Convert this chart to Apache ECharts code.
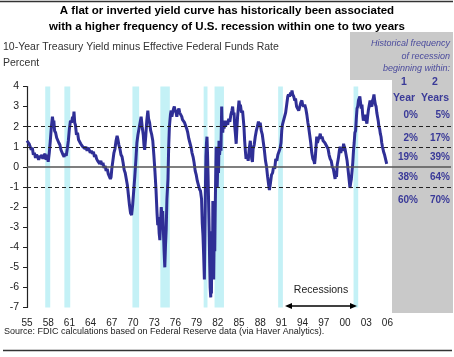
<!DOCTYPE html>
<html><head><meta charset="utf-8">
<script src="https://cdn.jsdelivr.net/npm/echarts@6/dist/echarts.min.js"></script>
<style>html,body{margin:0;padding:0;background:#fff}#c{width:454px;height:357px}</style>
</head><body><div id="c"></div>
<script>
// ---- data: [year, 10y Treasury minus effective fed funds, %] ----
const spreadSeries = [
[1955.0,1.3],[1955.15,1.35],[1955.3,1.15],[1955.45,1.2],[1955.6,0.85],[1955.75,0.95],[1955.9,0.6],[1956.05,0.7],[1956.2,0.45],[1956.35,0.6],[1956.5,0.5],[1956.65,0.35],[1956.8,0.55],[1956.95,0.45],[1957.1,0.6],[1957.25,0.4],[1957.4,0.55],[1957.55,0.65],[1957.7,0.35],[1957.85,0.6],[1958.0,0.25],[1958.15,0.7],[1958.3,1.3],[1958.45,2.0],[1958.6,2.5],[1958.7,2.2],[1958.8,2.3],[1958.9,1.8],
[1959.05,1.7],[1959.2,1.45],[1959.35,1.5],[1959.5,1.2],[1959.65,1.1],[1959.8,0.85],[1959.95,0.9],[1960.1,0.6],[1960.25,0.5],[1960.4,0.65],[1960.55,0.55],[1960.7,0.9],[1960.85,1.3],[1961.0,1.9],[1961.15,2.3],[1961.3,2.2],[1961.45,2.5],[1961.55,2.3],[1961.65,2.75],[1961.75,2.2],[1961.85,2.1],
[1962.0,1.6],[1962.15,1.7],[1962.3,1.35],[1962.45,1.4],[1962.6,1.15],[1962.75,1.2],[1962.9,1.0],[1963.05,1.05],[1963.2,0.9],[1963.35,1.0],[1963.5,0.8],[1963.65,0.95],[1963.8,0.85],[1963.95,0.7],[1964.1,0.8],[1964.25,0.65],[1964.4,0.75],[1964.55,0.5],[1964.7,0.6],[1964.85,0.4],
[1965.0,0.3],[1965.15,0.35],[1965.3,0.15],[1965.45,0.3],[1965.6,0.1],[1965.75,0.2],[1965.9,-0.05],[1966.05,0.05],[1966.2,-0.2],[1966.35,-0.1],[1966.5,-0.35],[1966.65,-0.4],[1966.8,-0.6],[1966.9,-0.5],[1967.0,-0.1],[1967.15,0.3],[1967.3,0.7],[1967.45,0.9],[1967.6,1.3],[1967.75,1.55],[1967.85,1.4],
[1968.0,1.1],[1968.15,0.9],[1968.3,0.6],[1968.45,0.5],[1968.6,0.2],[1968.75,-0.15],[1968.9,-0.3],[1969.05,-0.6],[1969.2,-0.9],[1969.35,-1.4],[1969.5,-1.9],[1969.65,-2.3],[1969.8,-2.4],[1969.95,-1.9],[1970.1,-1.2],[1970.25,-0.5],[1970.4,0.3],[1970.55,1.2],[1970.7,1.6],[1970.85,1.9],
[1971.0,2.2],[1971.15,2.5],[1971.3,2.0],[1971.45,1.6],[1971.55,1.1],[1971.65,0.85],[1971.8,1.5],[1971.95,2.3],[1972.1,2.8],[1972.2,2.4],[1972.35,2.2],[1972.5,1.8],[1972.65,1.6],[1972.8,1.3],[1972.95,0.6],
[1973.1,-0.2],[1973.25,-1.1],[1973.4,-2.3],[1973.5,-2.9],[1973.6,-2.5],[1973.7,-3.3],[1973.8,-3.65],[1973.9,-2.8],[1974.0,-2.0],[1974.1,-2.5],[1974.2,-2.2],[1974.3,-3.2],[1974.4,-4.2],[1974.5,-5.0],[1974.6,-3.9],[1974.7,-3.1],[1974.8,-1.6],[1974.95,-0.6],
[1975.05,1.0],[1975.15,2.0],[1975.3,2.6],[1975.4,2.8],[1975.5,2.5],[1975.6,2.7],[1975.75,2.9],[1975.85,3.0],[1975.95,2.8],[1976.1,2.7],[1976.2,2.5],[1976.35,2.8],[1976.5,2.9],[1976.6,2.7],[1976.75,2.6],[1976.9,2.5],
[1977.0,2.35],[1977.15,2.4],[1977.3,2.2],[1977.45,2.25],[1977.6,1.9],[1977.75,1.7],[1977.9,1.4],[1978.05,1.2],[1978.2,1.0],[1978.35,0.7],[1978.5,0.5],[1978.65,0.2],[1978.8,-0.2],[1978.95,-0.4],
[1979.1,-0.7],[1979.25,-0.9],[1979.4,-1.1],[1979.55,-1.2],[1979.7,-1.6],[1979.8,-2.8],[1979.9,-3.4],[1980.0,-4.4],[1980.1,-5.6],[1980.17,-3.5],[1980.25,-1.0],[1980.32,0.5],[1980.4,1.2],[1980.47,1.5],[1980.55,0.6],[1980.62,-0.4],[1980.7,-1.8],[1980.77,-3.0],[1980.85,-4.8],[1980.92,-6.0],
[1981.0,-6.5],[1981.05,-4.5],[1981.1,-6.3],[1981.17,-3.2],[1981.25,-5.5],[1981.3,-1.7],[1981.37,-4.0],[1981.42,-5.6],[1981.5,-3.0],[1981.57,-4.2],[1981.63,-2.3],[1981.7,-0.5],[1981.77,1.0],[1981.85,-0.4],[1981.92,-1.0],
[1982.0,0.2],[1982.1,-0.3],[1982.17,1.3],[1982.25,0.6],[1982.35,1.1],[1982.45,0.8],[1982.55,3.0],[1982.62,2.0],[1982.7,1.7],[1982.8,2.2],[1982.9,1.9],[1983.0,2.3],[1983.1,2.0],[1983.25,2.3],[1983.4,2.1],[1983.55,2.4],[1983.7,2.25],[1983.85,2.6],
[1984.0,2.8],[1984.1,3.0],[1984.2,2.6],[1984.3,2.7],[1984.4,2.0],[1984.5,1.6],[1984.6,1.15],[1984.7,1.9],[1984.8,2.5],[1984.9,2.9],[1985.0,3.3],[1985.1,3.0],[1985.2,3.1],[1985.35,2.7],[1985.5,2.8],[1985.6,2.4],[1985.7,2.0],[1985.8,1.3],[1985.9,0.8],
[1986.0,0.4],[1986.15,0.6],[1986.3,0.3],[1986.45,0.9],[1986.6,1.3],[1986.7,0.8],[1986.8,0.4],[1986.9,0.25],[1987.0,0.9],[1987.15,1.1],[1987.3,1.5],[1987.45,1.8],[1987.6,2.0],[1987.75,2.25],[1987.9,2.1],
[1988.0,2.2],[1988.15,1.8],[1988.3,1.6],[1988.45,1.2],[1988.6,0.8],[1988.75,0.3],[1988.9,0.0],[1989.05,-0.5],[1989.2,-0.9],[1989.3,-1.15],[1989.45,-0.8],[1989.6,-0.4],[1989.75,-0.3],[1989.9,0.0],
[1990.05,-0.1],[1990.2,0.4],[1990.35,0.3],[1990.5,0.6],[1990.65,0.55],[1990.8,0.9],[1990.95,1.2],[1991.05,1.8],[1991.15,2.1],[1991.3,2.3],[1991.45,2.5],[1991.6,2.7],[1991.75,3.1],[1991.9,3.5],
[1992.0,3.6],[1992.15,3.5],[1992.3,3.7],[1992.4,3.55],[1992.5,3.8],[1992.6,3.6],[1992.75,3.5],[1992.9,3.3],[1993.0,3.4],[1993.15,3.0],[1993.3,3.05],[1993.45,2.8],[1993.6,3.0],[1993.75,3.2],[1993.9,3.3],
[1994.0,3.1],[1994.15,3.0],[1994.3,3.1],[1994.45,2.9],[1994.6,2.6],[1994.75,2.2],[1994.85,2.0],[1995.0,1.6],[1995.15,1.2],[1995.3,0.7],[1995.45,0.4],[1995.6,0.3],[1995.7,0.15],[1995.8,0.5],[1995.9,1.0],
[1996.0,1.5],[1996.1,1.2],[1996.25,1.4],[1996.4,1.5],[1996.5,1.65],[1996.6,1.4],[1996.75,1.5],[1996.9,1.3],[1997.0,1.35],[1997.15,1.2],[1997.3,1.25],[1997.45,1.0],[1997.6,0.9],[1997.75,0.6],[1997.9,0.4],
[1998.05,0.3],[1998.2,0.0],[1998.35,-0.1],[1998.5,-0.4],[1998.6,-0.6],[1998.7,-0.3],[1998.8,-0.5],[1998.9,0.1],[1999.05,0.4],[1999.2,0.8],[1999.3,1.0],[1999.4,0.7],[1999.55,0.9],[1999.7,0.8],[1999.8,1.15],[1999.9,1.0],
[2000.0,0.9],[2000.15,0.6],[2000.3,0.3],[2000.45,-0.2],[2000.6,-0.7],[2000.7,-1.05],[2000.8,-0.8],[2000.9,-0.6],[2001.0,-0.2],[2001.1,0.2],[2001.2,0.8],[2001.3,1.2],[2001.4,1.7],[2001.5,1.8],[2001.6,2.4],[2001.7,2.9],[2001.8,3.0],[2001.9,3.3],
[2002.0,3.4],[2002.1,3.5],[2002.2,3.2],[2002.3,2.9],[2002.4,3.1],[2002.5,2.6],[2002.6,2.3],[2002.7,2.5],[2002.8,2.3],[2002.9,2.6],[2003.0,2.3],[2003.1,2.15],[2003.2,2.5],[2003.3,2.8],[2003.4,3.0],[2003.55,3.3],[2003.65,3.1],[2003.8,3.0],[2003.9,3.3],
[2004.0,3.4],[2004.1,3.6],[2004.2,3.3],[2004.3,3.1],[2004.4,3.0],[2004.5,2.7],[2004.6,2.5],[2004.7,2.3],[2004.8,2.0],[2004.9,1.9],[2005.0,1.65],[2005.1,1.5],[2005.2,1.2],[2005.3,1.0],[2005.4,0.85],[2005.5,0.7],[2005.6,0.6],[2005.7,0.45],[2005.8,0.3],[2005.9,0.15]
];
const recessionStart = [1957.58,1960.29,1969.92,1973.87,1980.0,1981.54,1990.54,2001.21];
const recessionEnd   = [1958.29,1961.12,1970.87,1975.21,1980.54,1982.87,1991.21,2001.87];
const dashedLevels = [2, 1, -1];
const zeroLevel = 0;
const tableHeader = ['Historical frequency','of recession','beginning within:'];
const colHeads1 = ['1','2'];
const colHeads2 = ['Year','Years'];
const oneYear = ['0%','2%','19%','38%','60%'];
const twoYears = ['5%','17%','39%','64%','70%'];

// ---- chart ----
const FONT = "'Liberation Sans', Arial, sans-serif";
const chart = echarts.init(document.getElementById('c'), null, {renderer:'canvas'});
const blue = '#3a3a98';
const g = [];
g.push({type:'line', shape:{x1:0,y1:1.5,x2:453,y2:1.5}, style:{stroke:'#333',lineWidth:1.5}, z:5});
g.push({type:'line', shape:{x1:3,y1:350.5,x2:452,y2:350.5}, style:{stroke:'#333',lineWidth:1.5}, z:5});
g.push({type:'text', x:227, y:11, style:{text:'A flat or inverted yield curve has historically been associated', font:"bold 11.5px "+FONT, fill:'#000', align:'center', verticalAlign:'middle'}});
g.push({type:'text', x:227, y:27, style:{text:'with a higher frequency of U.S. recession within one to two years', font:"bold 11.5px "+FONT, fill:'#000', align:'center', verticalAlign:'middle'}});
g.push({type:'text', x:3, y:47, style:{text:'10-Year Treasury Yield minus Effective Federal Funds Rate', font:"10.5px "+FONT, fill:'#333', verticalAlign:'middle'}});
g.push({type:'text', x:3, y:63, style:{text:'Percent', font:"10.5px "+FONT, fill:'#333', verticalAlign:'middle'}});
g.push({type:'text', x:4, y:332, style:{text:'Source: FDIC calculations based on Federal Reserve data (via Haver Analytics).', font:"9px "+FONT, fill:'#222', verticalAlign:'middle'}});
// table panel
g.push({type:'rect', shape:{x:350,y:32,width:103,height:48}, style:{fill:'#c9c9c9'}, z:0});
g.push({type:'rect', shape:{x:392,y:80,width:61,height:233}, style:{fill:'#c9c9c9'}, z:0});
const hy = [43,56,68];
tableHeader.forEach((t,i)=>g.push({type:'text', x:450, y:hy[i], style:{text:t, font:"italic 9px "+FONT, fill:'#4a4a9c', align:'right', verticalAlign:'middle'}, z:10}));
const cx = [404,435];
colHeads1.forEach((t,i)=>g.push({type:'text', x:cx[i], y:82, style:{text:t, font:"bold 10.5px "+FONT, fill:blue, align:'center', verticalAlign:'middle'}, z:10}));
colHeads2.forEach((t,i)=>g.push({type:'text', x:cx[i], y:98, style:{text:t, font:"bold 10.5px "+FONT, fill:blue, align:'center', verticalAlign:'middle'}, z:10}));
const rowY = [115,138,157,177,200];
oneYear.forEach((t,i)=>g.push({type:'text', x:418, y:rowY[i], style:{text:t, font:"bold 10px "+FONT, fill:blue, align:'right', verticalAlign:'middle'}, z:10}));
twoYears.forEach((t,i)=>g.push({type:'text', x:450, y:rowY[i], style:{text:t, font:"bold 10px "+FONT, fill:blue, align:'right', verticalAlign:'middle'}, z:10}));
// recessions annotation
g.push({type:'text', x:321, y:290, style:{text:'Recessions', font:"10.5px "+FONT, fill:'#222', align:'center', verticalAlign:'middle'}, z:10});
g.push({type:'line', shape:{x1:288,y1:306,x2:354,y2:306}, style:{stroke:'#000',lineWidth:1.5}, z:10});
g.push({type:'polygon', shape:{points:[[285,306],[292,303],[292,309]]}, style:{fill:'#000'}, z:10});
g.push({type:'polygon', shape:{points:[[357,306],[350,303],[350,309]]}, style:{fill:'#000'}, z:10});

const markLines = dashedLevels.map(v=>({yAxis:v, lineStyle:{type:[4,3], color:'#222', width:1.2}}));
markLines.push({yAxis:zeroLevel, lineStyle:{type:'solid', color:'#555', width:1.5}});

chart.setOption({
  animation:false,
  textStyle:{fontFamily:FONT},
  grid:{left:27, right:1, top:86.5, bottom:49.5},
  xAxis:{type:'value', min:1955, max:2015, interval:3,
    axisLine:{show:false}, axisTick:{show:false}, splitLine:{show:false},
    axisLabel:{fontSize:10, color:'#222', margin:11, formatter:v=> v<=2006 ? String(Math.round(v)%100).padStart(2,'0') : ''}},
  yAxis:{type:'value', min:-7, max:4, interval:1,
    axisLine:{show:true, lineStyle:{color:'#222', width:1.2}},
    axisTick:{show:true, length:4, lineStyle:{color:'#222'}},
    splitLine:{show:false},
    axisLabel:{fontSize:10.5, color:'#222', margin:8}},
  graphic:g,
  series:[{
    type:'line', data: spreadSeries, showSymbol:false,
    lineStyle:{color:'#2f2f96', width:3}, z:3,
    markArea:{silent:true, itemStyle:{color:'#c4f1f6'},
      data: recessionStart.map((s,i)=>[{xAxis:s},{xAxis:recessionEnd[i]}])},
    markLine:{silent:true, symbol:'none', label:{show:false}, data:markLines}
  }]
});
</script></body></html>
